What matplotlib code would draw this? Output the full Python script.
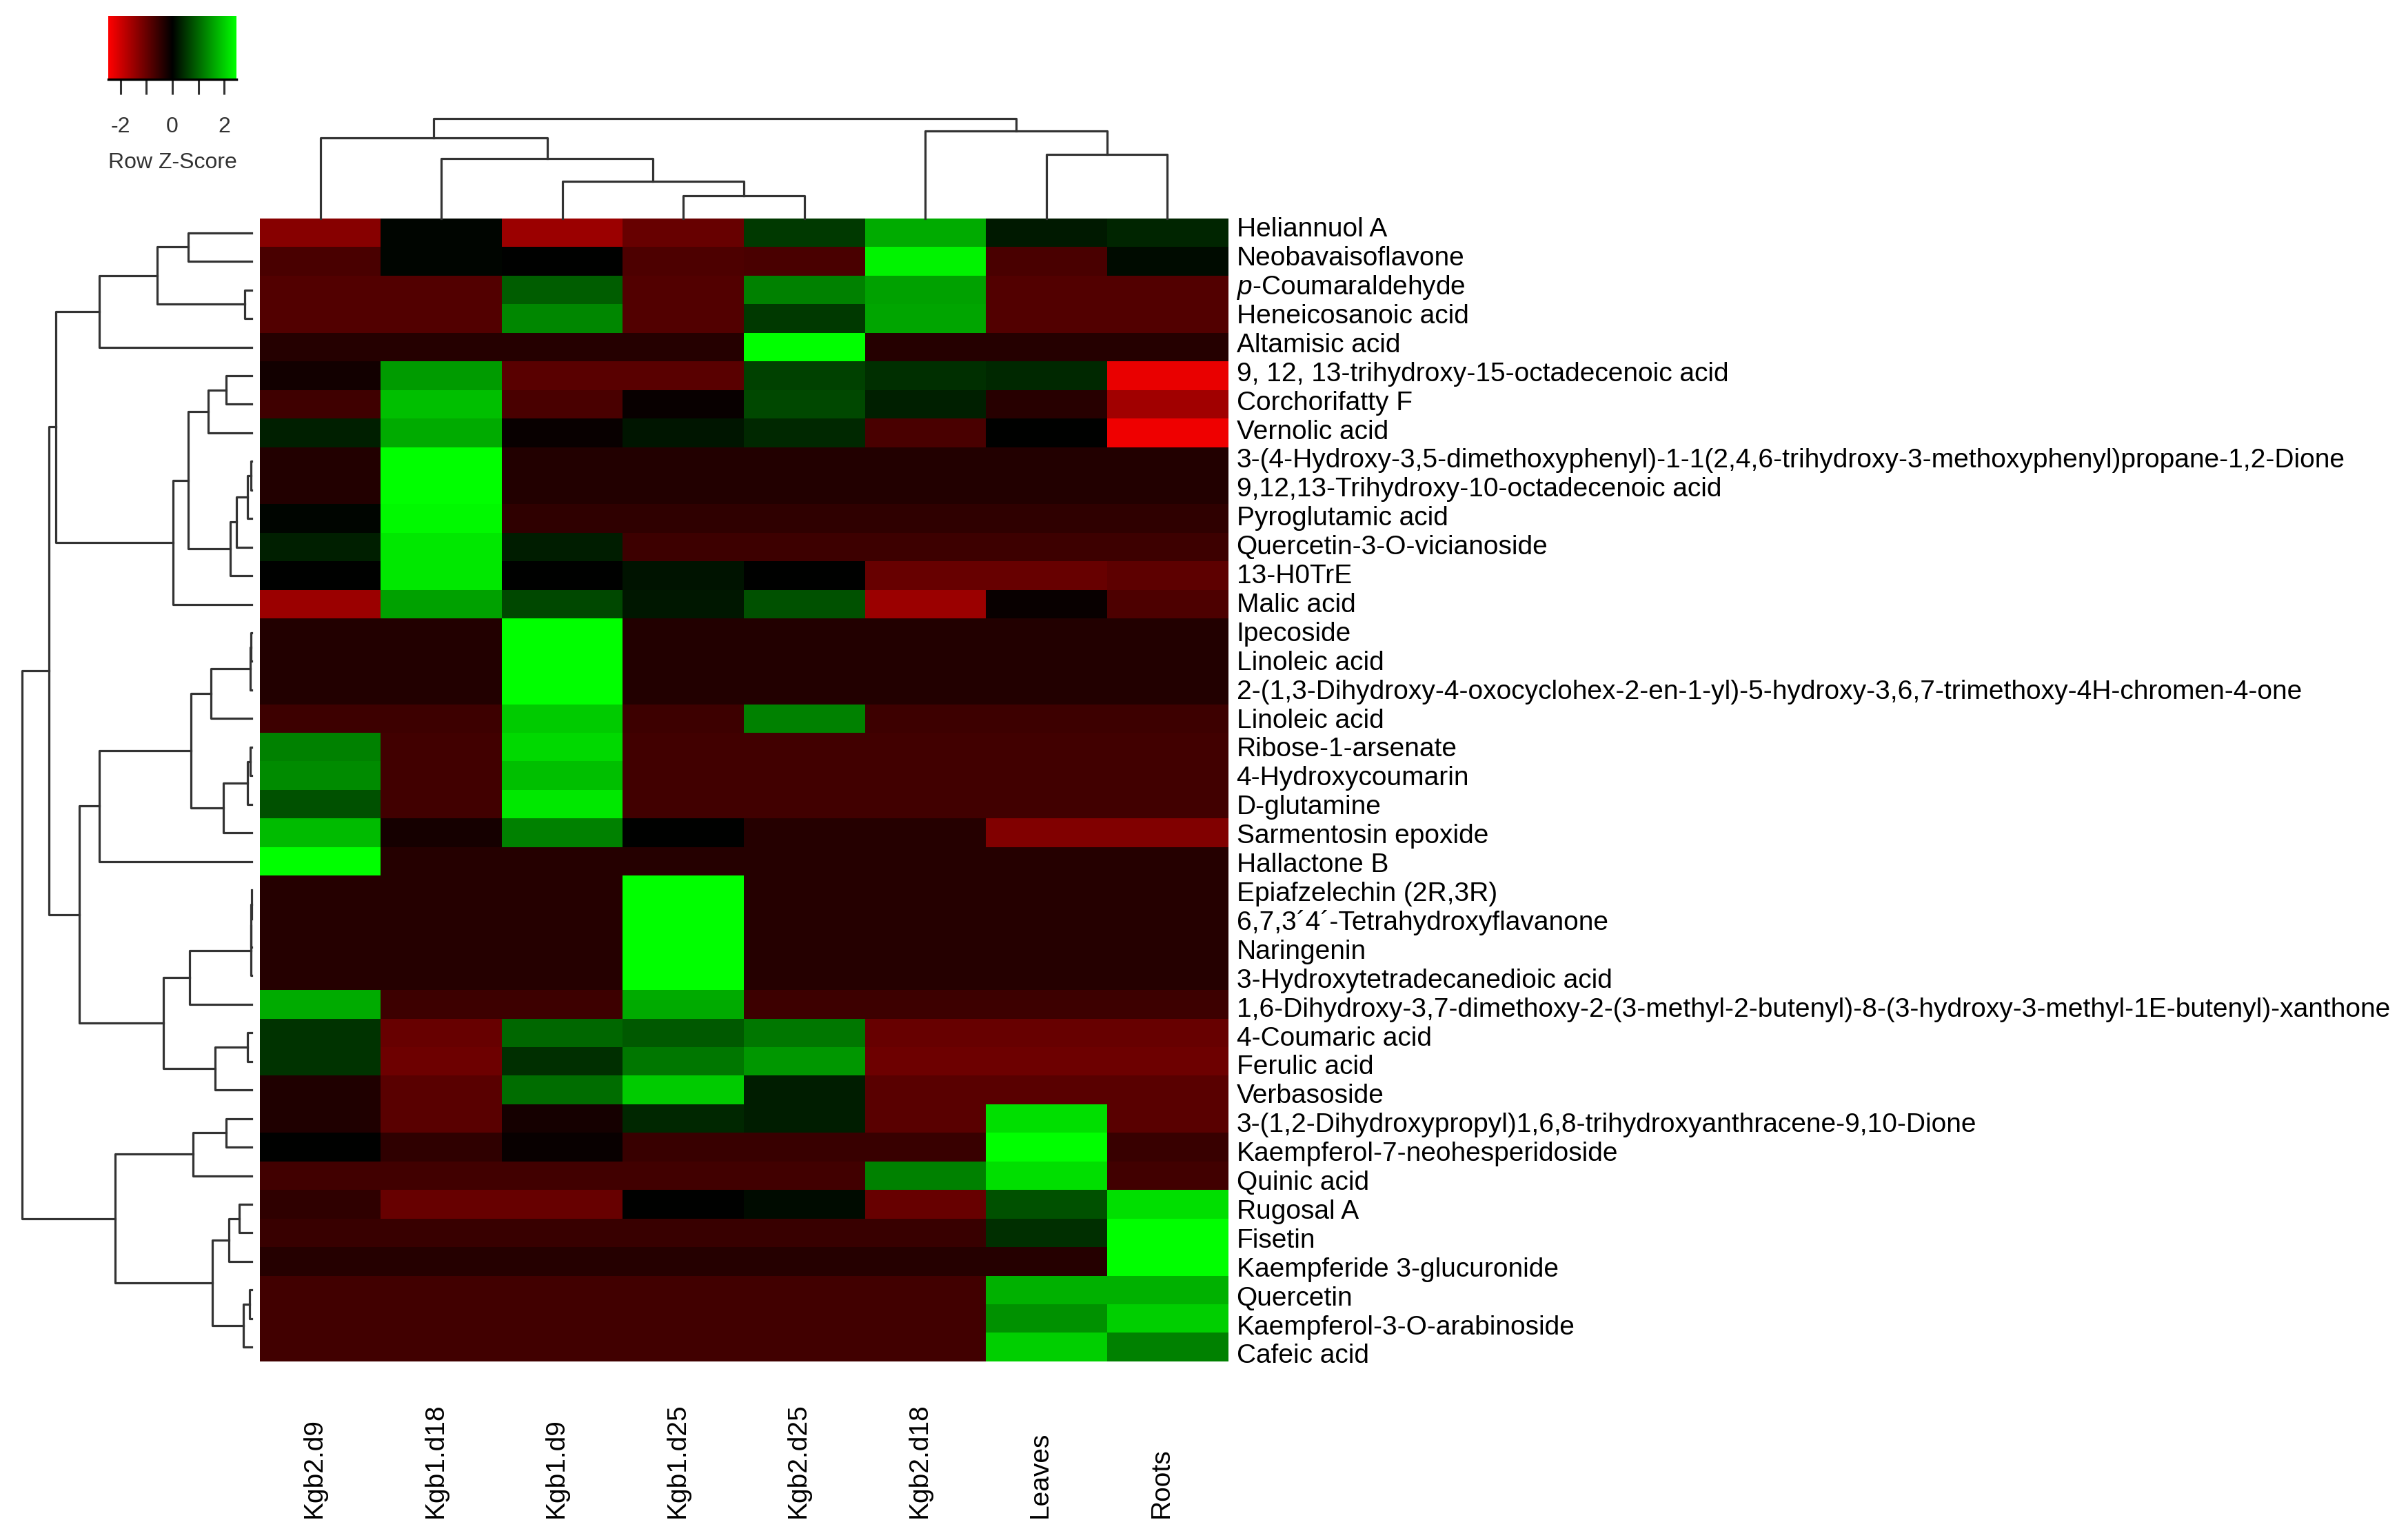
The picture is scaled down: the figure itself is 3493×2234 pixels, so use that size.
import numpy as np
import matplotlib
matplotlib.use('Agg')
import matplotlib.pyplot as plt
from matplotlib.colors import LinearSegmentedColormap
from matplotlib.transforms import blended_transform_factory

plt.rcParams['font.family'] = 'Liberation Sans'
plt.rcParams['mathtext.fontset'] = 'custom'
plt.rcParams['mathtext.rm'] = 'Liberation Sans'
plt.rcParams['mathtext.it'] = 'Liberation Sans:italic'

samples = ['Kgb2.d9', 'Kgb1.d18', 'Kgb1.d9', 'Kgb1.d25', 'Kgb2.d25', 'Kgb2.d18', 'Leaves', 'Roots']

compounds = [
    'Heliannuol A',
    'Neobavaisoflavone',
    r'$\mathit{p}$-Coumaraldehyde',
    'Heneicosanoic acid',
    'Altamisic acid',
    '9, 12, 13-trihydroxy-15-octadecenoic acid',
    'Corchorifatty F',
    'Vernolic acid',
    '3-(4-Hydroxy-3,5-dimethoxyphenyl)-1-1(2,4,6-trihydroxy-3-methoxyphenyl)propane-1,2-Dione',
    '9,12,13-Trihydroxy-10-octadecenoic acid',
    'Pyroglutamic acid',
    'Quercetin-3-O-vicianoside',
    '13-H0TrE',
    'Malic acid',
    'Ipecoside',
    'Linoleic acid',
    '2-(1,3-Dihydroxy-4-oxocyclohex-2-en-1-yl)-5-hydroxy-3,6,7-trimethoxy-4H-chromen-4-one',
    'Linoleic acid',
    'Ribose-1-arsenate',
    '4-Hydroxycoumarin',
    'D-glutamine',
    'Sarmentosin epoxide',
    'Hallactone B',
    'Epiafzelechin (2R,3R)',
    '6,7,3\u00b44\u00b4-Tetrahydroxyflavanone',
    'Naringenin',
    '3-Hydroxytetradecanedioic acid',
    '1,6-Dihydroxy-3,7-dimethoxy-2-(3-methyl-2-butenyl)-8-(3-hydroxy-3-methyl-1E-butenyl)-xanthone',
    '4-Coumaric acid',
    'Ferulic acid',
    'Verbasoside',
    '3-(1,2-Dihydroxypropyl)1,6,8-trihydroxyanthracene-9,10-Dione',
    'Kaempferol-7-neohesperidoside',
    'Quinic acid',
    'Rugosal A',
    'Fisetin',
    'Kaempferide 3-glucuronide',
    'Quercetin',
    'Kaempferol-3-O-arabinoside',
    'Cafeic acid',
]

# row z-scores, columns in the order of samples
zscore = [
    [-1.30, 0.05, -1.50, -1.00, 0.55, 1.65, 0.25, 0.35],
    [-0.70, 0.05, 0.00, -0.75, -0.70, 2.35, -0.70, 0.10],
    [-0.80, -0.80, 0.90, -0.80, 1.25, 1.55, -0.80, -0.80],
    [-0.80, -0.80, 1.30, -0.80, 0.55, 1.60, -0.80, -0.80],
    [-0.35, -0.35, -0.35, -0.35, 2.47, -0.35, -0.35, -0.35],
    [-0.18, 1.50, -0.85, -0.85, 0.62, 0.45, 0.40, -2.25],
    [-0.60, 1.85, -0.70, -0.08, 0.70, 0.30, -0.38, -1.55],
    [0.30, 1.65, -0.08, 0.20, 0.40, -0.70, 0.00, -2.30],
    [-0.33, 2.47, -0.33, -0.33, -0.33, -0.33, -0.33, -0.33],
    [-0.33, 2.47, -0.33, -0.33, -0.33, -0.33, -0.33, -0.33],
    [0.05, 2.40, -0.45, -0.45, -0.45, -0.45, -0.45, -0.45],
    [0.30, 2.25, 0.28, -0.58, -0.58, -0.58, -0.58, -0.58],
    [0.00, 2.25, 0.00, 0.18, 0.00, -1.00, -1.00, -0.90],
    [-1.50, 1.55, 0.70, 0.22, 0.78, -1.50, -0.08, -0.75],
    [-0.33, -0.33, 2.47, -0.33, -0.33, -0.33, -0.33, -0.33],
    [-0.33, -0.33, 2.47, -0.33, -0.33, -0.33, -0.33, -0.33],
    [-0.33, -0.33, 2.47, -0.33, -0.33, -0.33, -0.33, -0.33],
    [-0.58, -0.58, 1.95, -0.58, 1.25, -0.58, -0.58, -0.58],
    [1.25, -0.62, 2.10, -0.62, -0.62, -0.62, -0.62, -0.62],
    [1.35, -0.62, 1.85, -0.62, -0.62, -0.62, -0.62, -0.62],
    [0.78, -0.62, 2.25, -0.62, -0.62, -0.62, -0.62, -0.62],
    [1.80, -0.20, 1.25, 0.00, -0.35, -0.35, -1.25, -1.25],
    [2.47, -0.35, -0.35, -0.35, -0.35, -0.35, -0.35, -0.35],
    [-0.35, -0.35, -0.35, 2.47, -0.35, -0.35, -0.35, -0.35],
    [-0.35, -0.35, -0.35, 2.47, -0.35, -0.35, -0.35, -0.35],
    [-0.35, -0.35, -0.35, 2.47, -0.35, -0.35, -0.35, -0.35],
    [-0.35, -0.35, -0.35, 2.47, -0.35, -0.35, -0.35, -0.35],
    [1.65, -0.58, -0.58, 1.65, -0.58, -0.58, -0.58, -0.58],
    [0.50, -1.00, 1.00, 0.85, 1.15, -1.00, -1.00, -1.00],
    [0.50, -1.05, 0.45, 1.15, 1.45, -1.05, -1.05, -1.05],
    [-0.30, -0.85, 1.05, 1.95, 0.28, -0.85, -0.85, -0.85],
    [-0.30, -0.85, -0.20, 0.38, 0.28, -0.85, 2.15, -0.85],
    [0.00, -0.45, -0.08, -0.55, -0.55, -0.55, 2.47, -0.55],
    [-0.62, -0.62, -0.62, -0.62, -0.62, 1.25, 2.15, -0.62],
    [-0.45, -1.00, -1.00, 0.00, 0.10, -1.00, 0.78, 2.15],
    [-0.55, -0.55, -0.55, -0.55, -0.55, -0.55, 0.45, 2.47],
    [-0.35, -0.35, -0.35, -0.35, -0.35, -0.35, -0.35, 2.47],
    [-0.62, -0.62, -0.62, -0.62, -0.62, -0.62, 1.70, 1.70],
    [-0.62, -0.62, -0.62, -0.62, -0.62, -0.62, 1.40, 2.00],
    [-0.62, -0.62, -0.62, -0.62, -0.62, -0.62, 2.00, 1.25],
]

# dendrograms as (left, right, merge height)
r_a = (((0, 1, 91.7), (2, 3, 10), 136.7), 4, 221)
r_b1 = ((5, 6, 36.7), 7, 63.3)
r_b2 = ((((8, 9, 1), 10, 5.7), 11, 22.3), 12, 30.7)
r_b = ((r_b1, r_b2, 92.3), 13, 114.3)
r_c1 = (((14, 15, 1), 16, 1.7), 17, 59)
r_c2 = (((18, 19, 1.7), 20, 5.7), 21, 41)
r_c = ((r_c1, r_c2, 88.3), 22, 221)
r_d1 = ((((23, 24, 0.5), 25, 0.8), 26, 1.0), 27, 90)
r_d2 = ((28, 29, 5.7), 30, 53.3)
r_e1 = ((31, 32, 36.7), 33, 85)
r_e2 = (((34, 35, 18.3), 36, 33.3), ((37, 38, 3.3), 39, 11.7), 56.7)
row_tree = (((r_a, r_b, 284.3), ((r_c, (r_d1, r_d2, 127.7), 250)), 294.3),
            (r_e1, r_e2, 198.3), 333.3)

col_tree = ((0, (1, (2, (3, 4, 33.3), 54), 87.3), 116.7), (5, (6, 7, 93.3), 126.7), 145)


def draw_tree(ax, node, sideways=False):
    if isinstance(node, int):
        return node, 0.0
    left, right, h = node
    pl, hl = draw_tree(ax, left, sideways)
    pr, hr = draw_tree(ax, right, sideways)
    pos = [pl, pl, pr, pr]
    hts = [hl, h, h, hr]
    if sideways:
        ax.plot(hts, pos, color='#333333', lw=2.3, clip_on=False)
    else:
        ax.plot(pos, hts, color='#333333', lw=2.3, clip_on=False)
    return (pl + pr) / 2.0, h


W, H = 3493.0, 2234.0
fig = plt.figure(figsize=(W / 100, H / 100), dpi=100)

def box(x0, y0, x1, y1):
    return [x0 / W, 1 - y1 / H, (x1 - x0) / W, (y1 - y0) / H]

cmap = LinearSegmentedColormap.from_list('redgreen', ['#FF0000', '#000000', '#00FF00'])
zmax = 2.47

# heatmap
ax = fig.add_axes(box(377, 317, 1781, 1975))
ax.imshow(np.array(zscore), cmap=cmap, vmin=-zmax, vmax=zmax, aspect='auto',
          interpolation='nearest')
ax.set_xticks([])
ax.yaxis.tick_right()
# labels in the original drift slightly against the rows
ax.set_yticks(np.arange(len(compounds)) * 1.011 - 0.11)
ax.set_yticklabels(compounds, fontsize=28, va='center')
ax.set_ylim(len(compounds) - 0.5, -0.5)
ax.tick_params(axis='y', length=0, pad=9)
for sp in ax.spines.values():
    sp.set_visible(False)

trans = blended_transform_factory(ax.transData, fig.transFigure)
for j, s in enumerate(samples):
    ax.text(j - 0.05, 1 - 2202 / H, s, rotation=90, ha='center', va='bottom',
            fontsize=28, transform=trans)

# row dendrogram
axr = fig.add_axes(box(32, 317, 365, 1975))
draw_tree(axr, row_tree, sideways=True)
axr.set_xlim(333.3, 0)
axr.set_ylim(len(compounds) - 0.5, -0.5)
axr.axis('off')

# column dendrogram
axc = fig.add_axes(box(377, 172, 1781, 317))
draw_tree(axc, col_tree)
axc.set_xlim(-0.5, len(samples) - 0.5)
axc.set_ylim(0, 145)
axc.axis('off')

# colour key
axk = fig.add_axes(box(157, 23, 343, 115))
grad = np.linspace(-zmax, zmax, 256)[None, :]
axk.imshow(grad, cmap=cmap, aspect='auto', extent=(-zmax, zmax, 0, 1))
axk.set_yticks([])
axk.set_xticks([-2, -1, 0, 1, 2])
axk.set_xticklabels(['-2', '', '0', '', '2'], fontsize=23, color='#333333')
axk.tick_params(axis='x', length=16, width=2.2, pad=23, color='#333333')
for k in ['top', 'left', 'right']:
    axk.spines[k].set_visible(False)
axk.spines['bottom'].set_linewidth(2.5)
axk.set_xlabel('Row Z-Score', fontsize=23, labelpad=16, color='#333333')

fig.savefig('out.png', dpi=100)
